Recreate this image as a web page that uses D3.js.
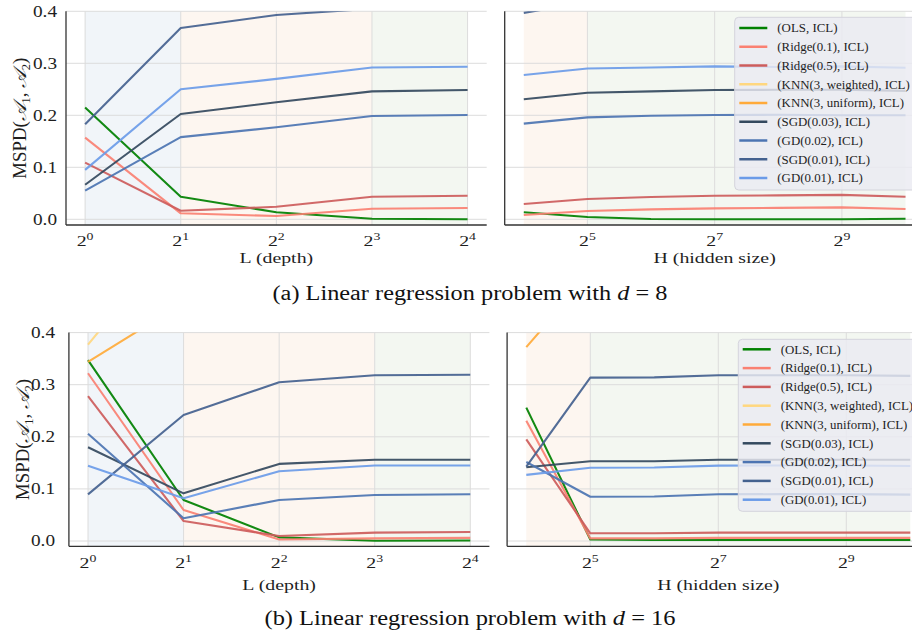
<!DOCTYPE html>
<html><head><meta charset="utf-8">
<script src="https://cdn.jsdelivr.net/npm/d3@7"></script>
<style>body{margin:0;background:#fff} svg{display:block}</style>
</head><body>
<svg id="c" width="912" height="634"></svg>
<script>
// ---------- data ----------
const seriesNames = ["(OLS, ICL)","(Ridge(0.1), ICL)","(Ridge(0.5), ICL)","(KNN(3, weighted), ICL)","(KNN(3, uniform), ICL)","(SGD(0.03), ICL)","(GD(0.02), ICL)","(SGD(0.01), ICL)","(GD(0.01), ICL)"];
const seriesColors = ["#008000","#fa8072","#cd5c5c","#ffd77f","#ffaa3a","#34495e","#4c74b2","#44618f","#6b9be8"];
const depthExp = [0,1,2,3,4];          // L = 2^e
const hiddenExp = [4,5,6,7,8,9,10];    // H = 2^e
const depthTickExp = [0,1,2,3,4];
const hiddenTickExp = [5,7,9];
const yTicks = [0.0,0.1,0.2,0.3,0.4];
const yTickLabels = ["0.0","0.1","0.2","0.3","0.4"];
const depthRegions = [[0,1,"blue"],[1,3,"orange"],[3,4,"green"]];
const hiddenRegions = [[4,5,"orange"],[5,10,"green"]];

// d = 8
const d8_depth = [
  [0.215,0.0435,0.0135,0.001,0.0],
  [0.157,0.0115,0.0063,0.0204,0.0217],
  [0.109,0.0165,0.024,0.0435,0.0454],
  [0.62,0.75,0.8,0.82,0.83],
  [0.55,0.7,0.75,0.78,0.79],
  [0.0665,0.2025,0.225,0.246,0.2487],
  [0.055,0.158,0.177,0.1987,0.2006],
  [0.183,0.368,0.393,0.405,0.41],
  [0.095,0.25,0.27,0.292,0.2935]
];
const d8_hidden = [
  [0.0135,0.0044,0.0006,0.0,0.0,0.0,0.001],
  [0.0083,0.016,0.019,0.021,0.022,0.023,0.0198],
  [0.0294,0.039,0.043,0.0454,0.046,0.047,0.0435],
  [0.72,0.8,0.82,0.83,0.83,0.83,0.83],
  [0.62,0.72,0.75,0.77,0.77,0.77,0.77],
  [0.231,0.2435,0.246,0.2487,0.249,0.249,0.247],
  [0.184,0.196,0.199,0.2005,0.201,0.2,0.2],
  [0.397,0.418,0.42,0.421,0.421,0.421,0.421],
  [0.2775,0.29,0.292,0.294,0.293,0.294,0.2915]
];
// d = 16
const d16_depth = [
  [0.347,0.0787,0.007,0.0006,0.001],
  [0.322,0.0595,0.003,0.005,0.006],
  [0.278,0.0384,0.0096,0.016,0.0173],
  [0.377,0.6,0.65,0.67,0.68],
  [0.344,0.457,0.5,0.52,0.53],
  [0.18,0.0915,0.148,0.156,0.156],
  [0.206,0.0435,0.0787,0.0883,0.0896],
  [0.0896,0.2418,0.3046,0.318,0.319],
  [0.1446,0.082,0.134,0.145,0.145]
];
const d16_hidden = [
  [0.256,0.003,0.002,0.002,0.002,0.002,0.002],
  [0.231,0.005,0.005,0.006,0.006,0.006,0.006],
  [0.195,0.0148,0.015,0.016,0.016,0.016,0.016],
  [0.45,0.62,0.65,0.66,0.66,0.66,0.66],
  [0.372,0.514,0.55,0.56,0.56,0.56,0.56],
  [0.1415,0.153,0.153,0.156,0.156,0.156,0.156],
  [0.1516,0.085,0.0855,0.0896,0.09,0.09,0.089],
  [0.1427,0.3135,0.314,0.318,0.318,0.318,0.317],
  [0.127,0.1407,0.141,0.1446,0.145,0.145,0.144]
];
const captions = [["(a) Linear regression problem with ","d"," = 8"],["(b) Linear regression problem with ","d"," = 16"]];

// ---------- style / layout ----------
const FONT = "'Liberation Serif','Times New Roman','DejaVu Serif',serif";
const TXT = "#1e1e1e";
const AX_SIZE = 15.5, AX_SX = 1.28;   // the reference figure is horizontally stretched
const regionFill = {blue:"#f1f5f9", orange:"#fdf6f0", green:"#f3f7f1"};
const svg = d3.select("#c");

const panels = [
  {data:d8_depth, exps:depthExp, ticks:depthTickExp, regions:depthRegions, xr:[66,486.7], dom:[-0.2,4.2], yTop:11.3, y0:219.3, yBot:225, ylab:true, ylabX:19.5, xlabel:"L (depth)", tickBase:245.5, labBase:263, tickLabR:57},
  {data:d8_hidden, exps:hiddenExp, ticks:hiddenTickExp, regions:hiddenRegions, xr:[504.7,924.6], dom:[3.7,10.3], yTop:11.3, y0:219.3, yBot:225, ylab:false, xlabel:"H (hidden size)", tickBase:245.5, labBase:263,
   legend:{x:734.7,y:17.3,h:172.7,row0:28,step:18.75,hx:739.3,tx:777.3}},
  {data:d16_depth, exps:depthExp, ticks:depthTickExp, regions:depthRegions, xr:[68.9,489.4], dom:[-0.2,4.2], yTop:332.6, y0:541, yBot:546.3, ylab:true, ylabX:23, xlabel:"L (depth)", tickBase:567.5, labBase:589.5, tickLabR:55},
  {data:d16_hidden, exps:hiddenExp, ticks:hiddenTickExp, regions:hiddenRegions, xr:[507.1,929.5], dom:[3.7,10.3], yTop:332.6, y0:541, yBot:546.3, ylab:false, xlabel:"H (hidden size)", tickBase:567.5, labBase:589.5,
   legend:{x:738.3,y:339.3,h:172,row0:349.3,step:18.8,hx:742.7,tx:780.7}}
];

panels.forEach((p,pi)=>{
  const x = d3.scaleLinear().domain(p.dom).range(p.xr);
  const y = d3.scaleLinear().domain([0,0.4]).range([p.y0,p.yTop]);
  const g = svg.append("g");
  const clipId = "clip"+pi;
  svg.append("clipPath").attr("id",clipId).append("rect")
    .attr("x",p.xr[0]).attr("y",p.yTop).attr("width",p.xr[1]-p.xr[0]).attr("height",p.yBot-p.yTop);

  // shaded regions
  g.selectAll(".reg").data(p.regions).join("rect")
    .attr("x",d=>x(d[0])).attr("width",d=>x(d[1])-x(d[0]))
    .attr("y",p.yTop).attr("height",p.yBot-p.yTop)
    .attr("fill",d=>regionFill[d[2]]);

  // grid
  g.selectAll(".hg").data(yTicks).join("line")
    .attr("x1",p.xr[0]).attr("x2",p.xr[1]).attr("y1",d=>y(d)).attr("y2",d=>y(d))
    .attr("stroke","#dcdcdc").attr("stroke-width",1);
  g.selectAll(".vg").data(p.ticks).join("line")
    .attr("x1",d=>x(d)).attr("x2",d=>x(d)).attr("y1",p.yTop).attr("y2",p.yBot)
    .attr("stroke","#dcdcdc").attr("stroke-width",1);

  // lines
  const line = d3.line().x((d,i)=>x(p.exps[i])).y(d=>y(d));
  const lg = g.append("g").attr("clip-path",`url(#${clipId})`);
  p.data.forEach((s,si)=>{
    lg.append("path").attr("d",line(s)).attr("fill","none")
      .attr("stroke",seriesColors[si]).attr("stroke-width",2.1).attr("stroke-opacity",0.92)
      .attr("stroke-linejoin","round");
  });

  // spines
  g.append("line").attr("x1",p.xr[0]).attr("x2",p.xr[1]).attr("y1",p.yBot).attr("y2",p.yBot)
    .attr("stroke","#333").attr("stroke-width",1.3);
  g.append("line").attr("x1",p.xr[0]).attr("x2",p.xr[0]).attr("y1",p.yTop).attr("y2",p.yBot)
    .attr("stroke","#333").attr("stroke-width",1.3);

  // x tick labels
  const tl = g.selectAll(".xt").data(p.ticks).join("text")
    .attr("transform",d=>`translate(${x(d)},${p.tickBase}) scale(${AX_SX},1)`).attr("text-anchor","middle")
    .attr("font-family",FONT).attr("font-size",AX_SIZE).attr("fill",TXT);
  tl.append("tspan").text("2");
  tl.append("tspan").attr("dy",-5.8).attr("font-size",10.8).text(d=>d);

  // y tick labels
  if(p.ylab){
    g.selectAll(".yt").data(yTicks).join("text")
      .attr("transform",d=>`translate(${p.tickLabR},${y(d)+5.3}) scale(${AX_SX*0.94},1)`).attr("text-anchor","end")
      .attr("font-family",FONT).attr("font-size",AX_SIZE+0.5).attr("fill",TXT)
      .text((d,i)=>yTickLabels[i]);
    const yc = (p.yTop+p.yBot)/2;
    const yl = g.append("text").attr("transform",`translate(${p.ylabX+6},${yc}) rotate(-90)`)
      .attr("text-anchor","middle").attr("font-family",FONT).attr("font-size",18).attr("fill",TXT)
      .attr("textLength",121).attr("lengthAdjust","spacingAndGlyphs");
    yl.append("tspan").text("MSPD(");
    yl.append("tspan").attr("font-style","italic").text("\u{1D49C}");
    yl.append("tspan").attr("font-size",12).attr("dy",4).text("1");
    yl.append("tspan").attr("dy",-4).text(", ");
    yl.append("tspan").attr("font-style","italic").text("\u{1D49C}");
    yl.append("tspan").attr("font-size",12).attr("dy",4).text("2");
    yl.append("tspan").attr("dy",-4).text(")");
  }

  // x label
  g.append("text").attr("transform",`translate(${(p.xr[0]+p.xr[1])/2},${p.labBase}) scale(${AX_SX},1)`).attr("text-anchor","middle")
    .attr("font-family",FONT).attr("font-size",AX_SIZE).attr("fill",TXT).text(p.xlabel);

  // legend
  if(p.legend){
    const L = p.legend;
    const lgd = svg.append("g");
    lgd.append("rect").attr("x",L.x).attr("y",L.y).attr("width",220).attr("height",L.h)
      .attr("rx",4).attr("fill","#eaeaf2").attr("fill-opacity",0.82)
      .attr("stroke","#d4d4dc").attr("stroke-width",1);
    seriesNames.forEach((nm,si)=>{
      const yy = L.row0 + si*L.step;
      lgd.append("line").attr("x1",L.hx).attr("x2",L.hx+28).attr("y1",yy).attr("y2",yy)
        .attr("stroke",seriesColors[si]).attr("stroke-width",2.5);
      lgd.append("text").attr("transform",`translate(${L.tx},${yy+4.3}) scale(1.04,1)`).attr("font-family",FONT)
        .attr("font-size",12.4).attr("fill",TXT).text(nm);
    });
  }
});

// captions
[[300,395],[625,411]].forEach(([yy,len],ci)=>{
  const t = svg.append("text").attr("x",470).attr("y",yy).attr("text-anchor","middle")
    .attr("font-family",FONT).attr("font-size",20).attr("fill","#111")
    .attr("textLength",len).attr("lengthAdjust","spacingAndGlyphs");
  t.append("tspan").text(captions[ci][0]);
  t.append("tspan").attr("font-style","italic").text(captions[ci][1]);
  t.append("tspan").text(captions[ci][2]);
});
</script>
</body></html>
